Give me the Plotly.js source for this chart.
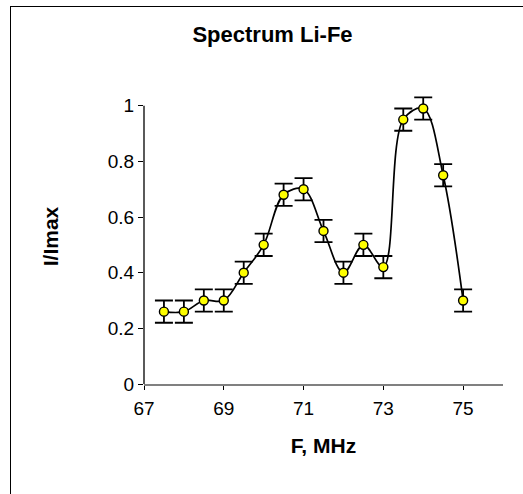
<!DOCTYPE html>
<html>
<head>
<meta charset="utf-8">
<script src="https://cdn.plot.ly/plotly-3.0.1.min.js"></script>
<style>
  html, body { margin: 0; padding: 0; background: #ffffff; overflow: hidden; }
  #wrap { position: relative; width: 523px; height: 494px; overflow: hidden; }
  #chart { position: absolute; left: 0; top: 0; width: 523px; height: 494px; }
  #frame { position: absolute; left: 10px; top: 6px; width: 700px; height: 700px;
           border-left: 1.5px solid #000; border-top: 1.5px solid #000; pointer-events: none; }
</style>
</head>
<body>
<div id="wrap">
  <div id="chart"></div>
  <div id="frame"></div>
</div>
<script>
const freq = [67.5, 68, 68.5, 69, 69.5, 70, 70.5, 71, 71.5, 72, 72.5, 73, 73.5, 74, 74.5, 75];
const intensity = [0.26, 0.26, 0.30, 0.30, 0.40, 0.50, 0.68, 0.70, 0.55, 0.40, 0.50, 0.42, 0.95, 0.99, 0.75, 0.30];
const errors = [0.04, 0.04, 0.04, 0.04, 0.04, 0.04, 0.04, 0.04, 0.04, 0.04, 0.04, 0.04, 0.04, 0.04, 0.04, 0.04];
const xTicks = [67, 69, 71, 73, 75];
const yTicks = [0, 0.2, 0.4, 0.6, 0.8, 1];
const yTickLabels = ['0', '0.2', '0.4', '0.6', '0.8', '1'];

const font = 'Liberation Sans, Arial, sans-serif';
const yTop = 1.06;

const trace = {
  x: freq,
  y: intensity,
  type: 'scatter',
  mode: 'lines+markers',
  cliponaxis: false,
  line: { color: '#000000', width: 1.7, shape: 'spline', smoothing: 1 },
  marker: { size: 9, color: '#ffff00', line: { color: '#000000', width: 1.4 } },
  error_y: { type: 'data', array: errors, visible: true, color: '#000000', thickness: 1.8, width: 9 },
  showlegend: false,
  hoverinfo: 'x+y'
};

const plotH = 278 * yTop;

const layout = {
  width: 523,
  height: 494,
  margin: { l: 144, r: 20, t: 384 - plotH, b: 110, pad: 0 },
  paper_bgcolor: '#ffffff',
  plot_bgcolor: '#ffffff',
  font: { family: font, color: '#000000', size: 19 },
  title: {
    text: '<b>Spectrum Li-Fe</b>',
    font: { family: font, size: 22, color: '#000000' },
    x: 272.5 / 523, xanchor: 'center', xref: 'container',
    y: 1 - 34 / 494, yanchor: 'middle', yref: 'container'
  },
  xaxis: {
    range: [67, 76],
    tickmode: 'array',
    tickvals: xTicks,
    ticktext: xTicks.map(String),
    showgrid: false,
    zeroline: false,
    showline: true,
    linecolor: '#808080',
    linewidth: 1.5,
    ticks: 'outside',
    ticklen: 4,
    tickwidth: 1,
    tickcolor: '#000000',
    ticklabelstandoff: 3,
    tickfont: { family: font, size: 19, color: '#000000' },
    automargin: false,
    title: { text: '<b>F, MHz</b>', font: { family: font, size: 21, color: '#000000' }, standoff: 20 }
  },
  yaxis: {
    range: [0, yTop],
    tickmode: 'array',
    tickvals: yTicks,
    ticktext: yTickLabels,
    showgrid: false,
    zeroline: false,
    showline: false,
    ticks: 'outside',
    ticklen: 5,
    tickwidth: 1,
    tickcolor: '#000000',
    tickfont: { family: font, size: 19, color: '#000000' },
    automargin: false,
    title: { text: '<b>I/Imax</b>', font: { family: font, size: 21, color: '#000000' }, standoff: 43 }
  },
  shapes: [
    {
      type: 'line', xref: 'paper', yref: 'y',
      x0: 0, x1: 0, y0: 0, y1: 1,
      line: { color: '#000000', width: 1.3 }
    }
  ]
};

Plotly.newPlot('chart', [trace], layout, { displayModeBar: false, staticPlot: true });
</script>
</body>
</html>
